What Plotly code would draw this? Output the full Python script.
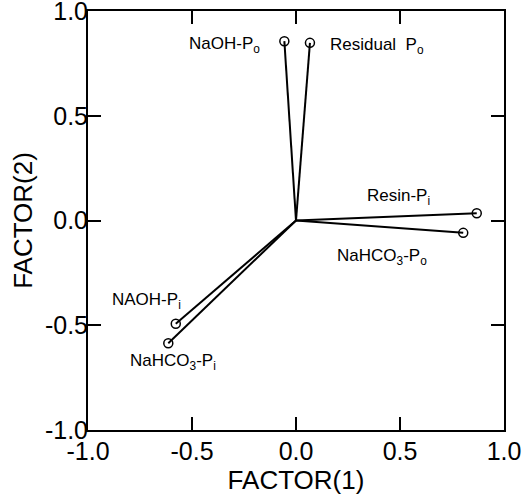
import plotly.graph_objects as go

# Data: factor loadings
variables = ["NaOH-Po", "Residual Po", "Resin-Pi", "NaHCO3-Po", "NAOH-Pi", "NaHCO3-Pi"]
factor1 = [-0.056, 0.067, 0.869, 0.804, -0.578, -0.614]
factor2 = [0.856, 0.848, 0.035, -0.059, -0.493, -0.586]
label_text = ["NaOH-P<sub>o</sub>", "Residual\u00a0\u00a0P<sub>o</sub>", "Resin-P<sub>i</sub>",
              "NaHCO<sub>3</sub>-P<sub>o</sub>", "NAOH-P<sub>i</sub>", "NaHCO<sub>3</sub>-P<sub>i</sub>"]
x_ticks = [-1.0, -0.5, 0.0, 0.5, 1.0]
y_ticks = [-1.0, -0.5, 0.0, 0.5, 1.0]

# Label placement (layout only)
label_pos = [(-0.163, 0.838, "right"), (0.154, 0.835, "left"), (0.332, 0.111, "left"),
             (0.1875, -0.175, "left"), (-0.894, -0.386, "left"), (-0.806, -0.676, "left")]

FONT = "Liberation Sans, Arial, Helvetica, sans-serif"

fig = go.Figure()
lx, ly = [], []
for a, b in zip(factor1, factor2):
    lx += [0, a, None]
    ly += [0, b, None]
fig.add_trace(go.Scatter(x=lx, y=ly, mode="lines", line=dict(color="black", width=2),
                         hoverinfo="skip", showlegend=False))
fig.add_trace(go.Scatter(x=factor1, y=factor2, mode="markers", text=variables,
                         marker=dict(symbol="circle-open", size=9, color="black",
                                     line=dict(width=1.5, color="black")),
                         showlegend=False))

for t, (px, py, anc) in zip(label_text, label_pos):
    fig.add_annotation(x=px, y=py, text=t, showarrow=False, xanchor=anc, yanchor="middle",
                       font=dict(family=FONT, size=17, color="black"))

axis_common = dict(showgrid=False, zeroline=False, showline=True, linecolor="black", linewidth=2,
                   mirror="ticks", ticks="inside", ticklen=13, tickwidth=2, tickcolor="black",
                   tickfont=dict(family=FONT, size=25, color="black"),
                   automargin=False, ticklabeloverflow="allow")

fig.update_xaxes(range=[-1.0, 1.0], tickvals=x_ticks, ticktext=[f"{v:.1f}" for v in x_ticks],
                 ticklabelstandoff=-2,
                 title=dict(text="FACTOR(1)", font=dict(family=FONT, size=26, color="black"), standoff=6),
                 **axis_common)
fig.update_yaxes(range=[-1.0, 1.0], tickvals=y_ticks, ticktext=[f"{v:.1f}" for v in y_ticks],
                 ticklabelstandoff=-7,
                 title=dict(text="FACTOR(2)", font=dict(family=FONT, size=26, color="black"), standoff=5),
                 **axis_common)

fig.update_layout(width=527, height=502, margin=dict(l=88, r=23, t=11, b=72),
                  plot_bgcolor="white", paper_bgcolor="white", font=dict(family=FONT, color="black"))

fig.write_html("out.html", config={"displayModeBar": False},
               post_script="document.body.style.margin='0';")
